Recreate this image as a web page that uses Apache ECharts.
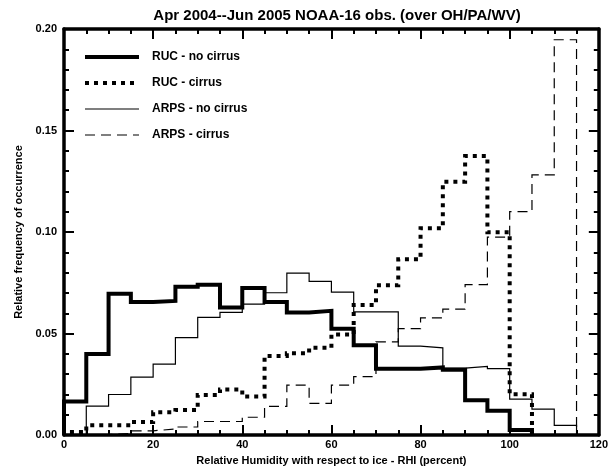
<!DOCTYPE html>
<html>
<head>
<meta charset="utf-8">
<script src="https://cdn.jsdelivr.net/npm/echarts@6/dist/echarts.min.js"></script>
<style>
  html, body { margin: 0; padding: 0; background: #fff; }
  #chart { width: 611px; height: 471px; }
</style>
</head>
<body>
<div id="chart"></div>
<script>
// bin edges, 5% wide bins from 0 to 120
const binEdges = [0, 5, 10, 15, 20, 25, 30, 35, 40, 45, 50, 55, 60, 65, 70, 75, 80, 85, 90, 95, 100, 105, 110, 115, 120];

const rucNoCirrus = [0.0165, 0.040, 0.0696, 0.0656, 0.0661, 0.073, 0.074, 0.0628, 0.0725, 0.0656, 0.0604, 0.0612,
  0.0524, 0.0443, 0.0327, 0.0327, 0.0333, 0.0322, 0.0172, 0.012, 0.0025, 0, 0, 0];
const rucCirrus = [0.0015, 0.0048, 0.0048, 0.0064, 0.0112, 0.0123, 0.0198, 0.0225, 0.019, 0.039, 0.0403, 0.043,
  0.0496, 0.0641, 0.0738, 0.0866, 0.1019, 0.1248, 0.1374, 0.0999, 0.0201, 0, 0, 0];
const arpsNoCirrus = [0, 0.0143, 0.020, 0.0286, 0.035, 0.048, 0.058, 0.0604, 0.0645, 0.0701, 0.0798, 0.0757,
  0.0704, 0.0607, 0.0607, 0.0438, 0.043, 0.033, 0.0338, 0.0327, 0.0177, 0.0128, 0.0048, 0];
const arpsCirrus = [0, 0.0003, 0.0008, 0.0021, 0.003, 0.004, 0.0067, 0.0067, 0.0088, 0.0141, 0.0246, 0.0156,
  0.0246, 0.0288, 0.0459, 0.0524, 0.0577, 0.062, 0.0741, 0.0975, 0.1101, 0.1282, 0.1947, 0];

const xTicks = [0, 20, 40, 60, 80, 100, 120];
const yTicks = ['0.00', '0.05', '0.10', '0.15', '0.20'];

const FONT = '"Liberation Sans", Arial, Helvetica, sans-serif';

// line look per series: [width, dash]
const looks = {
  'RUC - no cirrus': [4, 'solid'],
  'RUC - cirrus': [4, [4, 5]],
  'ARPS - no cirrus': [1.2, 'solid'],
  'ARPS - cirrus': [1.2, [10, 6]]
};

// histogram outline: starts on the axis at the first filled bin, drops back after the last one
function histPoints(vals) {
  let first = vals.findIndex(v => v > 0);
  let last = vals.length - 1;
  while (last > first && vals[last] === 0) last--;
  const pts = [[binEdges[first], 0]];
  for (let i = first; i <= last; i++) pts.push([binEdges[i], vals[i]]);
  pts.push([binEdges[last + 1], 0]);
  return pts;
}

function histSeries(name, vals) {
  return {
    name: name,
    type: 'line',
    step: 'end',
    symbol: 'none',
    data: histPoints(vals),
    lineStyle: { color: '#000', width: looks[name][0], type: looks[name][1], cap: 'butt', join: 'miter' },
    emphasis: { disabled: true },
    animation: false
  };
}

const axisLine = { show: true, onZero: false, lineStyle: { color: '#000', width: 3.5 } };
const labelStyle = { color: '#000', fontFamily: FONT, fontWeight: 'bold', fontSize: 11 };

const xCommon = {
  type: 'value', min: 0, max: 120, interval: 20,
  axisLine: axisLine,
  axisTick: { inside: true, length: 10, lineStyle: { color: '#000', width: 2 } },
  minorTick: { show: true, splitNumber: 4, length: 5, lineStyle: { color: '#000', width: 2 } },
  splitLine: { show: false }
};
const yCommon = {
  type: 'value', min: 0, max: 0.2, interval: 0.05,
  axisLine: axisLine,
  axisTick: { inside: true, length: 10, lineStyle: { color: '#000', width: 2 } },
  minorTick: { show: true, splitNumber: 5, length: 5, lineStyle: { color: '#000', width: 2 } },
  splitLine: { show: false }
};

const option = {
  backgroundColor: '#fff',
  title: {
    text: 'Apr 2004--Jun 2005 NOAA-16 obs. (over OH/PA/WV)',
    left: 332, top: 3, textAlign: 'center',
    textStyle: { color: '#000', fontFamily: FONT, fontWeight: 'bold', fontSize: 15 }
  },
  legend: {
    orient: 'vertical', left: 83, top: 51, padding: 0,
    itemWidth: 54, itemHeight: 14, itemGap: 14,
    itemStyle: { color: 'rgba(0,0,0,0)', borderWidth: 0 },
    textStyle: { color: '#000', fontFamily: FONT, fontWeight: 'bold', fontSize: 12, padding: [0, 0, 0, 8] },
    selectedMode: false,
    data: Object.keys(looks).map(name => ({
      name: name,
      lineStyle: { color: '#000', width: looks[name][0], type: looks[name][1], cap: 'butt' }
    }))
  },
  grid: { left: 64, right: 11, top: 29, bottom: 30 },
  xAxis: [
    Object.assign({}, xCommon, {
      position: 'bottom',
      name: 'Relative Humidity with respect to ice - RHI (percent)',
      nameLocation: 'middle', nameGap: 17,
      nameTextStyle: labelStyle,
      axisLabel: Object.assign({ margin: 4, formatter: v => xTicks.includes(v) ? String(v) : '' }, labelStyle)
    }),
    Object.assign({}, xCommon, { position: 'top', axisLabel: { show: false } })
  ],
  yAxis: [
    Object.assign({}, yCommon, {
      position: 'left',
      name: 'Relative frequency of occurrence',
      nameLocation: 'middle', nameGap: 37,
      nameTextStyle: labelStyle,
      axisLabel: Object.assign({ margin: 7, formatter: (v, i) => yTicks[i] }, labelStyle)
    }),
    Object.assign({}, yCommon, { position: 'right', axisLabel: { show: false } })
  ],
  series: [
    histSeries('RUC - no cirrus', rucNoCirrus),
    histSeries('RUC - cirrus', rucCirrus),
    histSeries('ARPS - no cirrus', arpsNoCirrus),
    histSeries('ARPS - cirrus', arpsCirrus)
  ]
};

const chart = echarts.init(document.getElementById('chart'), null, { renderer: 'canvas' });
chart.setOption(option);
</script>
</body>
</html>
